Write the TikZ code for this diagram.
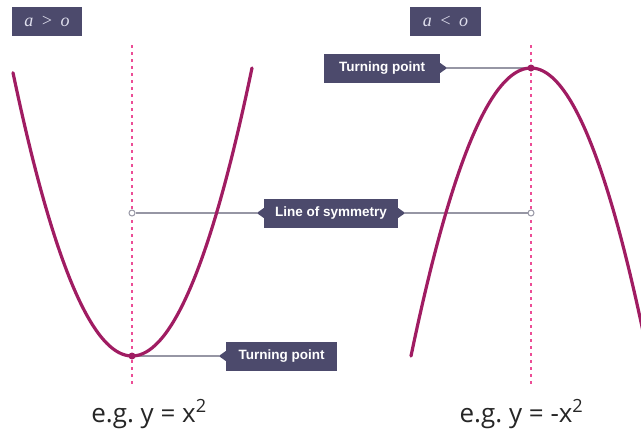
\documentclass[tikz,border=0pt]{standalone}
\usepackage{fontspec}
\setmainfont{Open Sans}
\newfontfamily\boxfont{Liberation Sans}
\newfontfamily\serifit{Liberation Serif}
\definecolor{curvec}{RGB}{160,28,98}
\definecolor{dashc}{RGB}{236,78,150}
\definecolor{boxc}{RGB}{76,74,108}
\definecolor{connc}{RGB}{150,150,164}
\definecolor{alab}{RGB}{222,222,236}
\tikzset{
  curve/.style={draw=curvec, line width=3.2pt, line cap=round},
  symline/.style={draw=dashc, line width=1.6pt, dash pattern=on 3pt off 4pt},
  conn/.style={draw=connc, line width=1.1pt},
  tag/.style={fill=boxc, text=white, inner sep=0pt, minimum height=29pt,
     font=\boxfont\bfseries\fontsize{13.5}{16}\selectfont},
  atag/.style={fill=boxc, text=alab, inner sep=0pt, minimum height=29pt,
     font=\serifit\itshape\fontsize{18}{21}\selectfont},
  endpt/.style={circle, draw=connc, fill=white, line width=1pt, inner sep=0pt, minimum size=6pt},
  vtx/.style={circle, fill=curvec, inner sep=0pt, minimum size=7pt},
  caption/.style={anchor=base, inner sep=0pt, font=\fontsize{26}{30}\selectfont, text=black!85}
}
\begin{document}
\frenchspacing
\begin{tikzpicture}[x=1pt,y=-1pt]
\useasboundingbox (0,0) rectangle (641,434);
% axes of symmetry
\coordinate (t1) at (132,45);
\coordinate (b1) at (132,385);
\coordinate (t2) at (531,45);
\coordinate (b2) at (531,385);
\draw[symline] (t1) -- (b1);
\draw[symline] (t2) -- (b2);
% vertices
\coordinate (v1) at (132,356);
\coordinate (v2) at (531,68);
% tags
\node[atag, minimum width=70pt] (ag) at (47,21.5) {a \,>\, o};
\node[atag, minimum width=71pt] (al) at (445.5,21.5) {a \,<\, o};
\node[tag, minimum width=116pt] (tp2) at (382,68) {Turning point};
\node[tag, minimum width=134pt] (los) at (331,213) {Line of symmetry};
\node[tag, minimum width=111pt] (tp1) at (281.5,356) {Turning point};
\fill[boxc] ([yshift=5pt]tp2.east) -- ([xshift=7pt]tp2.east) -- ([yshift=-5pt]tp2.east) -- cycle;
\fill[boxc] ([yshift=5pt]los.east) -- ([xshift=7pt]los.east) -- ([yshift=-5pt]los.east) -- cycle;
\fill[boxc] ([yshift=5pt]los.west) -- ([xshift=-7pt]los.west) -- ([yshift=-5pt]los.west) -- cycle;
\fill[boxc] ([yshift=5pt]tp1.west) -- ([xshift=-7pt]tp1.west) -- ([yshift=-5pt]tp1.west) -- cycle;
% connectors
\node[endpt] (c1) at (132,213) {};
\node[endpt] (c2) at (531,213) {};
\draw[conn] (c1) -- ([xshift=-7pt]los.west);
\draw[conn] ([xshift=7pt]los.east) -- (c2);
\draw[conn] (v1) -- ([xshift=-7pt]tp1.west);
\draw[conn] ([xshift=7pt]tp2.east) -- (v2);
% curves
\draw[curve] plot[domain=13:252, samples=80, smooth] (\x,{356-0.02*(\x-132)*(\x-132)});
\draw[curve] plot[domain=411:531, samples=50, smooth] (\x,{68+0.02*(\x-531)*(\x-531)});
\draw[curve] plot[domain=531:645, samples=50, smooth] (\x,{68+0.021*(\x-531)*(\x-531)});
\node[vtx] (p1) at (v1) {};
\node[vtx] (p2) at (v2) {};
% captions
\node[caption] (e1) at (149,422) {e.g. y = x\textsuperscript{2}};
\node[caption] (e2) at (521.5,422) {e.g. y = -x\textsuperscript{2}};
\end{tikzpicture}
\end{document}
